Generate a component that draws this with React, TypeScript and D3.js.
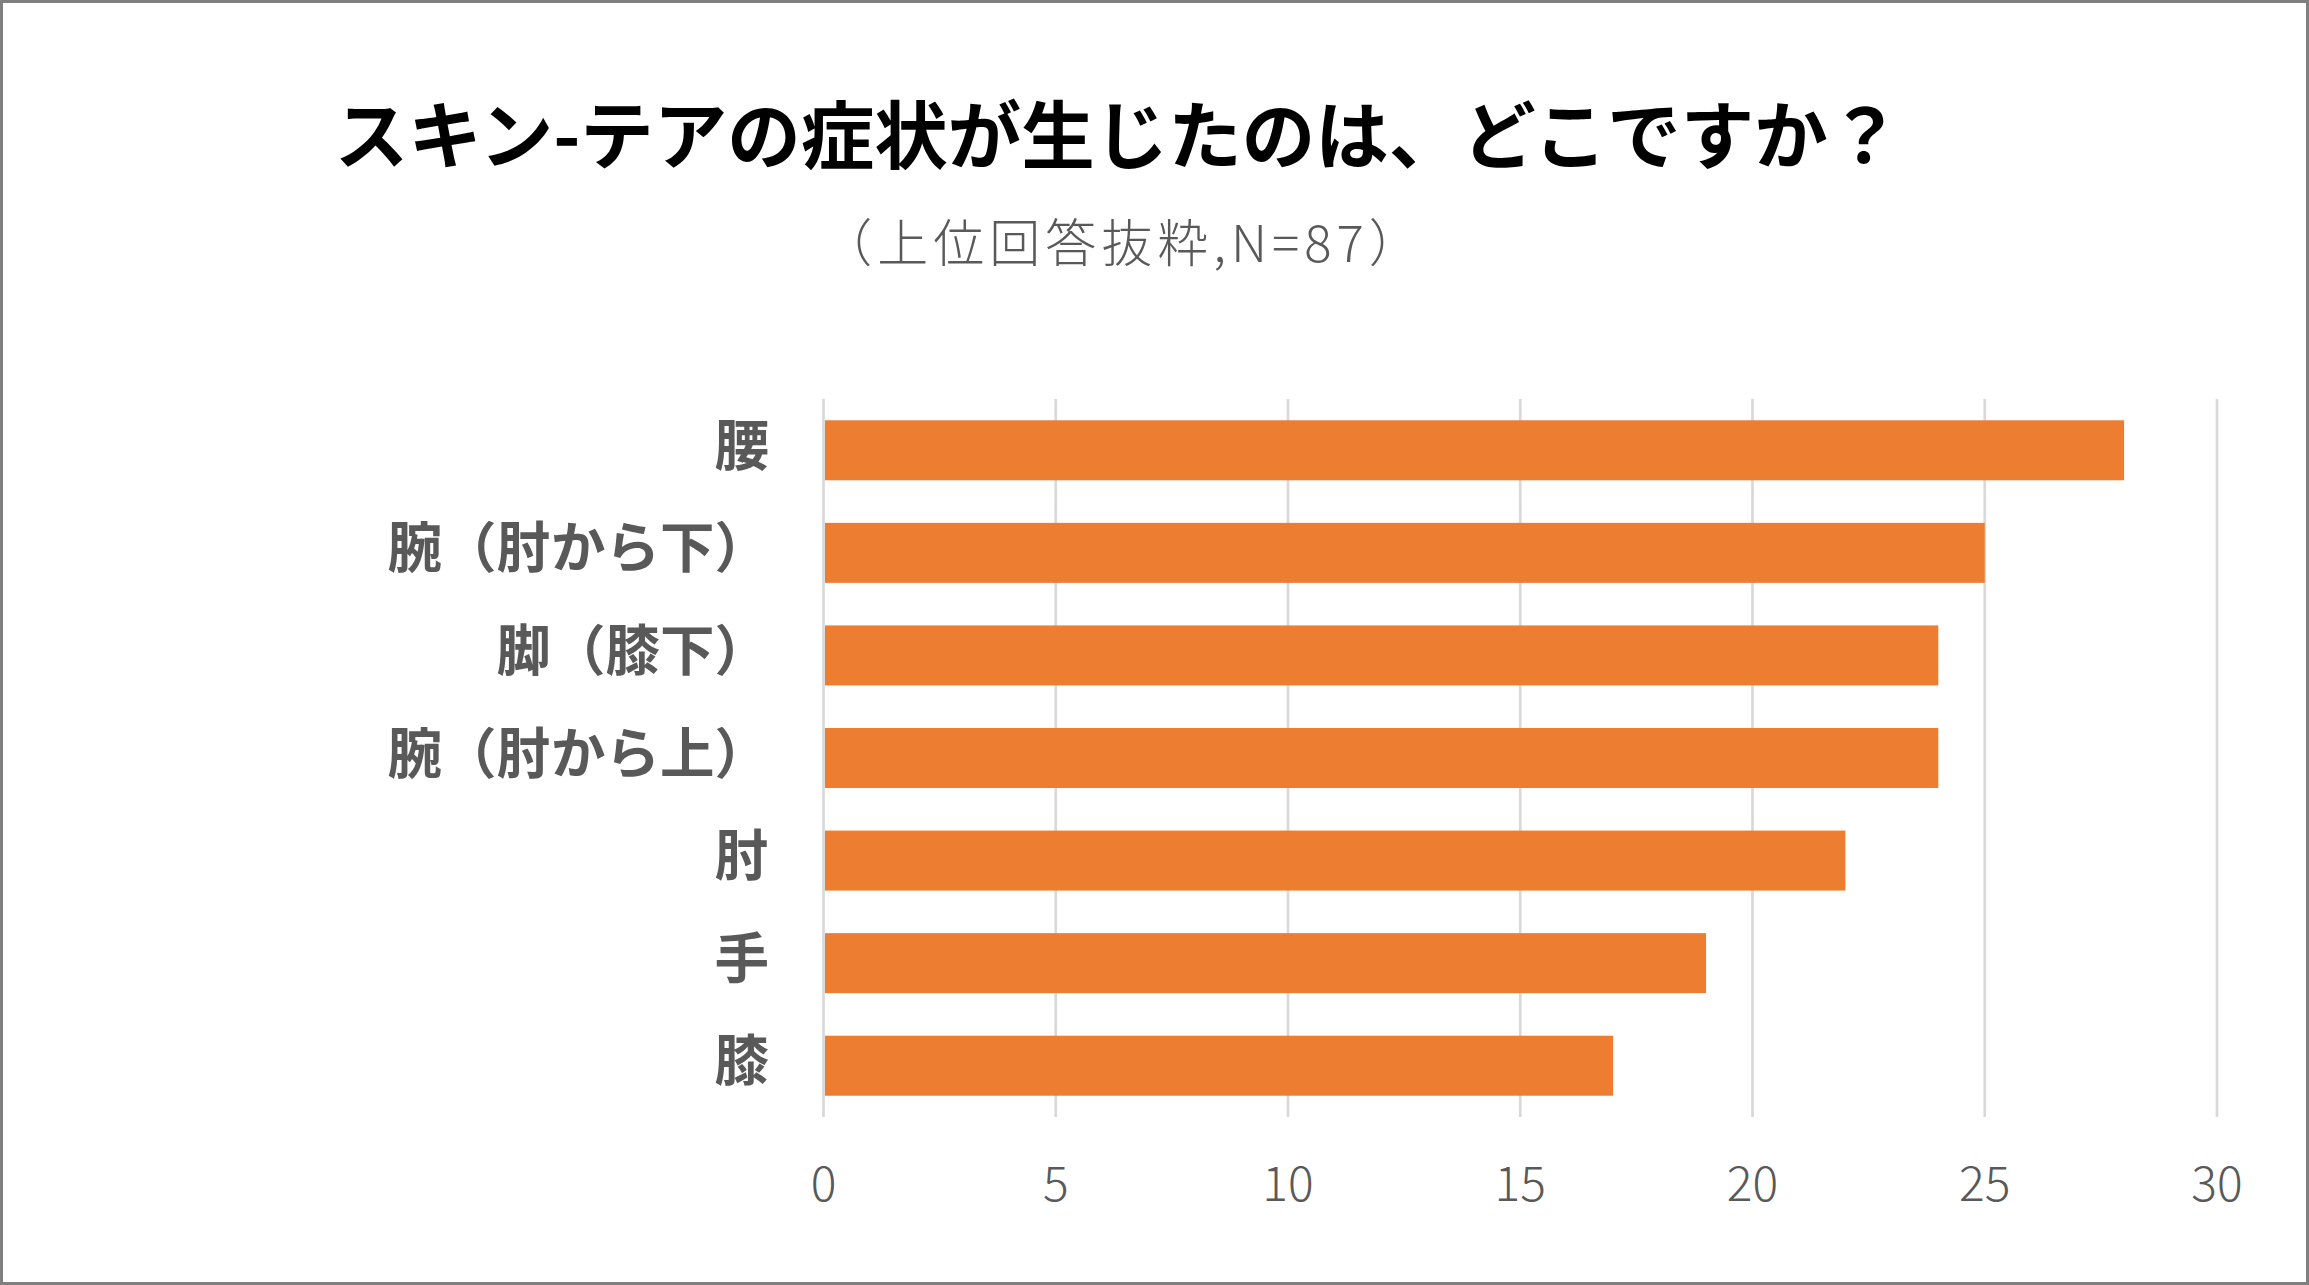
import React from "react";
import * as d3 from "d3";

const categories = ["腰", "腕（肘から下）", "脚（膝下）", "腕（肘から上）", "肘", "手", "膝"];
const values = [28, 25, 24, 24, 22, 19, 17];
const xTicks = [0, 5, 10, 15, 20, 25, 30];
const title = "スキン-テアの症状が生じたのは、どこですか？";
const subtitle = "（上位回答抜粋,N=87）";

const W = 2309;
const H = 1285;
const FONT = "'Noto Sans CJK JP', 'Noto Sans', sans-serif";

export default function App() {
  const x = d3.scaleLinear().domain([0, 30]).range([823.5, 2217]);
  const y = d3
    .scaleBand<string>()
    .domain(categories)
    .range([399, 1117])
    .paddingInner(0.415)
    .paddingOuter(0.2075);

  return (
    <div style={{ position: "fixed", left: 0, top: 0, width: W, height: H }}>
      <svg width={W} height={H} viewBox={`0 0 ${W} ${H}`} style={{ display: "block" }}>
        <rect x={0} y={0} width={W} height={H} fill="#ffffff" />
        <rect x={1.5} y={1.5} width={W - 3} height={H - 3} fill="none" stroke="#7f7f7f" strokeWidth={3} />
        <text
          x={1118}
          y={131}
          textAnchor="middle"
          dominantBaseline="central"
          fontFamily={FONT}
          fontWeight={700}
          fontSize={73.5}
          fill="#000000"
        >
          {title}
        </text>
        <text
          x={1123}
          y={240}
          textAnchor="middle"
          dominantBaseline="central"
          fontFamily={FONT}
          fontWeight={300}
          fontSize={51}
          letterSpacing={5}
          fill="#595959"
        >
          {subtitle}
        </text>
        {xTicks.map((t) => (
          <line
            key={"g" + t}
            x1={x(t)}
            x2={x(t)}
            y1={399}
            y2={1117}
            stroke="#d9d9d9"
            strokeWidth={2.7}
          />
        ))}
        {categories.map((c, i) => (
          <rect
            key={"b" + c}
            x={x(0) + 1.5}
            y={y(c)}
            width={x(values[i]) - x(0) - 1.5}
            height={y.bandwidth()}
            fill="#ed7d31"
          />
        ))}
        {categories.map((c) => (
          <text
            key={"l" + c}
            x={769}
            y={(y(c) as number) + y.bandwidth() / 2 - 9}
            textAnchor="end"
            dominantBaseline="central"
            fontFamily={FONT}
            fontWeight={700}
            fontSize={54.5}
            fill="#595959"
          >
            {c}
          </text>
        ))}
        {xTicks.map((t) => (
          <text
            key={"t" + t}
            x={x(t)}
            y={1180}
            textAnchor="middle"
            dominantBaseline="central"
            fontFamily={FONT}
            fontWeight={300}
            fontSize={48}
            fill="#595959"
          >
            {t}
          </text>
        ))}
      </svg>
    </div>
  );
}
